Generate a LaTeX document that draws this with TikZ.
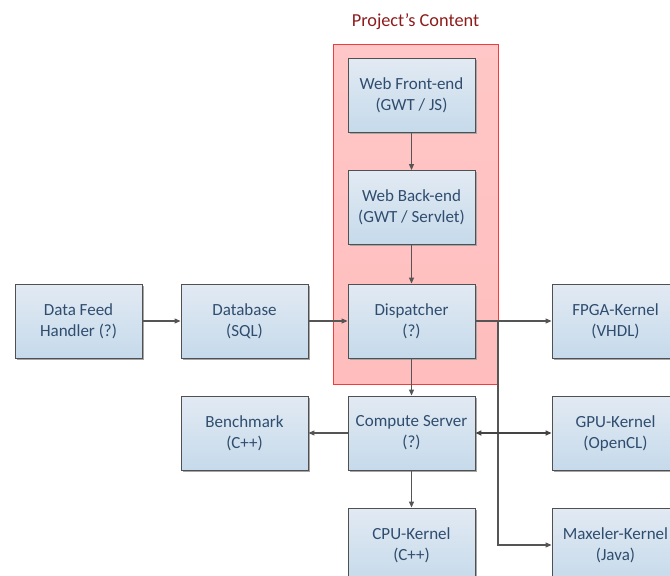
\documentclass[tikz,border=0pt]{standalone}
\usepackage{fontspec}
\setmainfont{Carlito}
\usetikzlibrary{arrows.meta,shadows}
\definecolor{boxtext}{HTML}{2F4D6E}
\definecolor{boxline}{HTML}{505050}
\definecolor{boxtop}{HTML}{E2EAF3}
\definecolor{boxbot}{HTML}{C6DAEB}
\definecolor{titlered}{HTML}{8E1B1B}
\definecolor{regionfill}{HTML}{FFBDBD}
\definecolor{regionline}{HTML}{F03C3C}
\definecolor{wire}{HTML}{555555}
\tikzset{
  stagebox/.style={draw=boxline, line width=0.9pt, top color=boxtop, bottom color=boxbot,
    minimum width=127pt, minimum height=74pt, align=center, text=boxtext,
    font=\fontsize{17}{21}\selectfont, inner sep=2pt,
    execute at begin node={\rule{0pt}{17pt}},
    general shadow={shadow xshift=1.5pt, shadow yshift=-1.5pt, fill=black!35}},
  region/.style={draw=regionline, line width=0.9pt, top color=regionfill!85, bottom color=regionfill,
    minimum width=165pt, minimum height=340pt},
  wirearrow/.style={draw=wire, line width=1.1pt, -{Triangle[length=6pt,width=5pt]}},
  boldarrow/.style={draw=wire!80!black, line width=1.8pt, {Triangle[length=6pt,width=5pt]}-{Triangle[length=6pt,width=5pt]}},
}
\begin{document}
\begin{tikzpicture}[x=1pt,y=-1pt]
\useasboundingbox (0,0) rectangle (670,576);
% highlighted project region and its caption
\node[region] (proj) at (415.5,214) {};
\node[text=titlered, font=\fontsize{18.3}{22}\selectfont] (title) at (415.5,22) {Project’s Content};
% stages
\node[stagebox] (front) at (411.5,95.5) {Web Front-end\\(GWT / JS)};
\node[stagebox] (back) at (411.5,207.5) {Web Back-end\\(GWT / Servlet)};
\node[stagebox] (disp) at (411.5,321) {Dispatcher\\(?)};
\node[stagebox] (comp) at (411.5,433) {Compute Server\\(?)};
\node[stagebox] (cpu) at (411.5,545) {CPU-Kernel\\(C++)};
\node[stagebox] (feed) at (78.5,321) {Data Feed\\Handler (?)};
\node[stagebox] (db) at (244.5,321) {Database\\(SQL)};
\node[stagebox] (bench) at (244.5,433) {Benchmark\\(C++)};
\node[stagebox] (fpga) at (615.5,321) {FPGA-Kernel\\(VHDL)};
\node[stagebox] (gpu) at (615.5,433) {GPU-Kernel\\(OpenCL)};
\node[stagebox] (max) at (615.5,545) {Maxeler-Kernel\\(Java)};
\coordinate (split) at (498,321);
% connectors
\draw[wirearrow] (front) -- (back);
\draw[wirearrow] (back) -- (disp);
\draw[wirearrow] (feed) -- (db);
\draw[wirearrow] (db) -- (disp);
\draw[wirearrow] (disp) -- (comp);
\draw[wirearrow] (comp) -- (bench);
\draw[wirearrow] (comp) -- (cpu);
\draw[wirearrow] (disp) -- (fpga);
\draw[wirearrow] (split) |- (max);
\draw[boldarrow] (comp) -- (gpu);
\end{tikzpicture}
\end{document}
